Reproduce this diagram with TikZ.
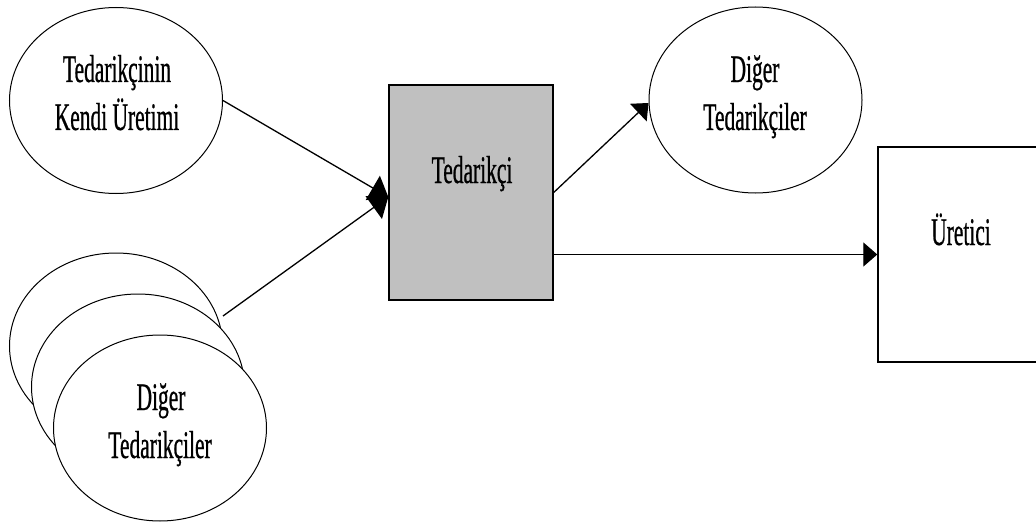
\documentclass[tikz,border=0pt]{standalone}
\usepackage{fontspec}
\newfontfamily\cond[FakeStretch=0.55,FakeBold=0.6]{Liberation Serif}
\usetikzlibrary{arrows.meta,shapes.geometric}
\definecolor{boxgray}{RGB}{192,192,192}
\tikzset{
  oval/.style={draw=black, fill=white, ellipse, line width=1pt, inner sep=0pt,
               minimum width=213pt, minimum height=186pt},
  box/.style={draw=black, rectangle, line width=1.4pt, inner sep=0pt},
  txt/.style={anchor=base, inner sep=0pt, font=\cond\fontsize{39}{48}\selectfont},
  conn/.style={line width=1.3pt, -{Triangle[length=14pt,width=24pt]}},
  bigconn/.style={line width=1.3pt, -{Triangle[length=18pt,width=28pt]}}
}
\begin{document}
\begin{tikzpicture}[x=1pt,y=-1pt]
\clip (0,0) rectangle (1036,524);
\fill[white] (0,0) rectangle (1036,524);

% ellipses
\node[oval] (tl) at (116,100.5) {};
\node[oval] (tr) at (755.5,100) {};
\node[oval] (bk) at (116,346) {};
\node[oval] (md) at (138,387) {};
\node[oval] (fr) at (160,428) {};

% boxes
\node[box, fill=boxgray, minimum width=164pt, minimum height=215pt] (ted) at (471,192.5) {};
\node[box, fill=white, minimum width=182pt, minimum height=215pt] (ur) at (969,254.5) {};

% texts
\node[txt] (tl1) at (117,82) {Tedarikçinin};
\node[txt] (tl2) at (117,130) {Kendi Üretimi};
\node[txt] (tr1) at (755,82) {Diğer};
\node[txt] (tr2) at (755,130) {Tedarikçiler};
\node[txt] (fr1) at (161,410) {Diğer};
\node[txt] (fr2) at (160,458) {Tedarikçiler};
\node[txt] (tedl) at (472,183) {Tedarikçi};
\node[txt] (url) at (961,245) {Üretici};

% connectors
\coordinate (bkout) at (223,316);
\draw[bigconn] (tl.east) -- ([yshift=-4.5pt]ted.west);
\draw[bigconn] (bkout) -- ([yshift=-4.5pt]ted.west);
\draw[conn] (ted.east) -- ([yshift=-3pt]tr.west);
\draw[conn] (ted.east |- ur.west) -- (ur.west);
\end{tikzpicture}
\end{document}
